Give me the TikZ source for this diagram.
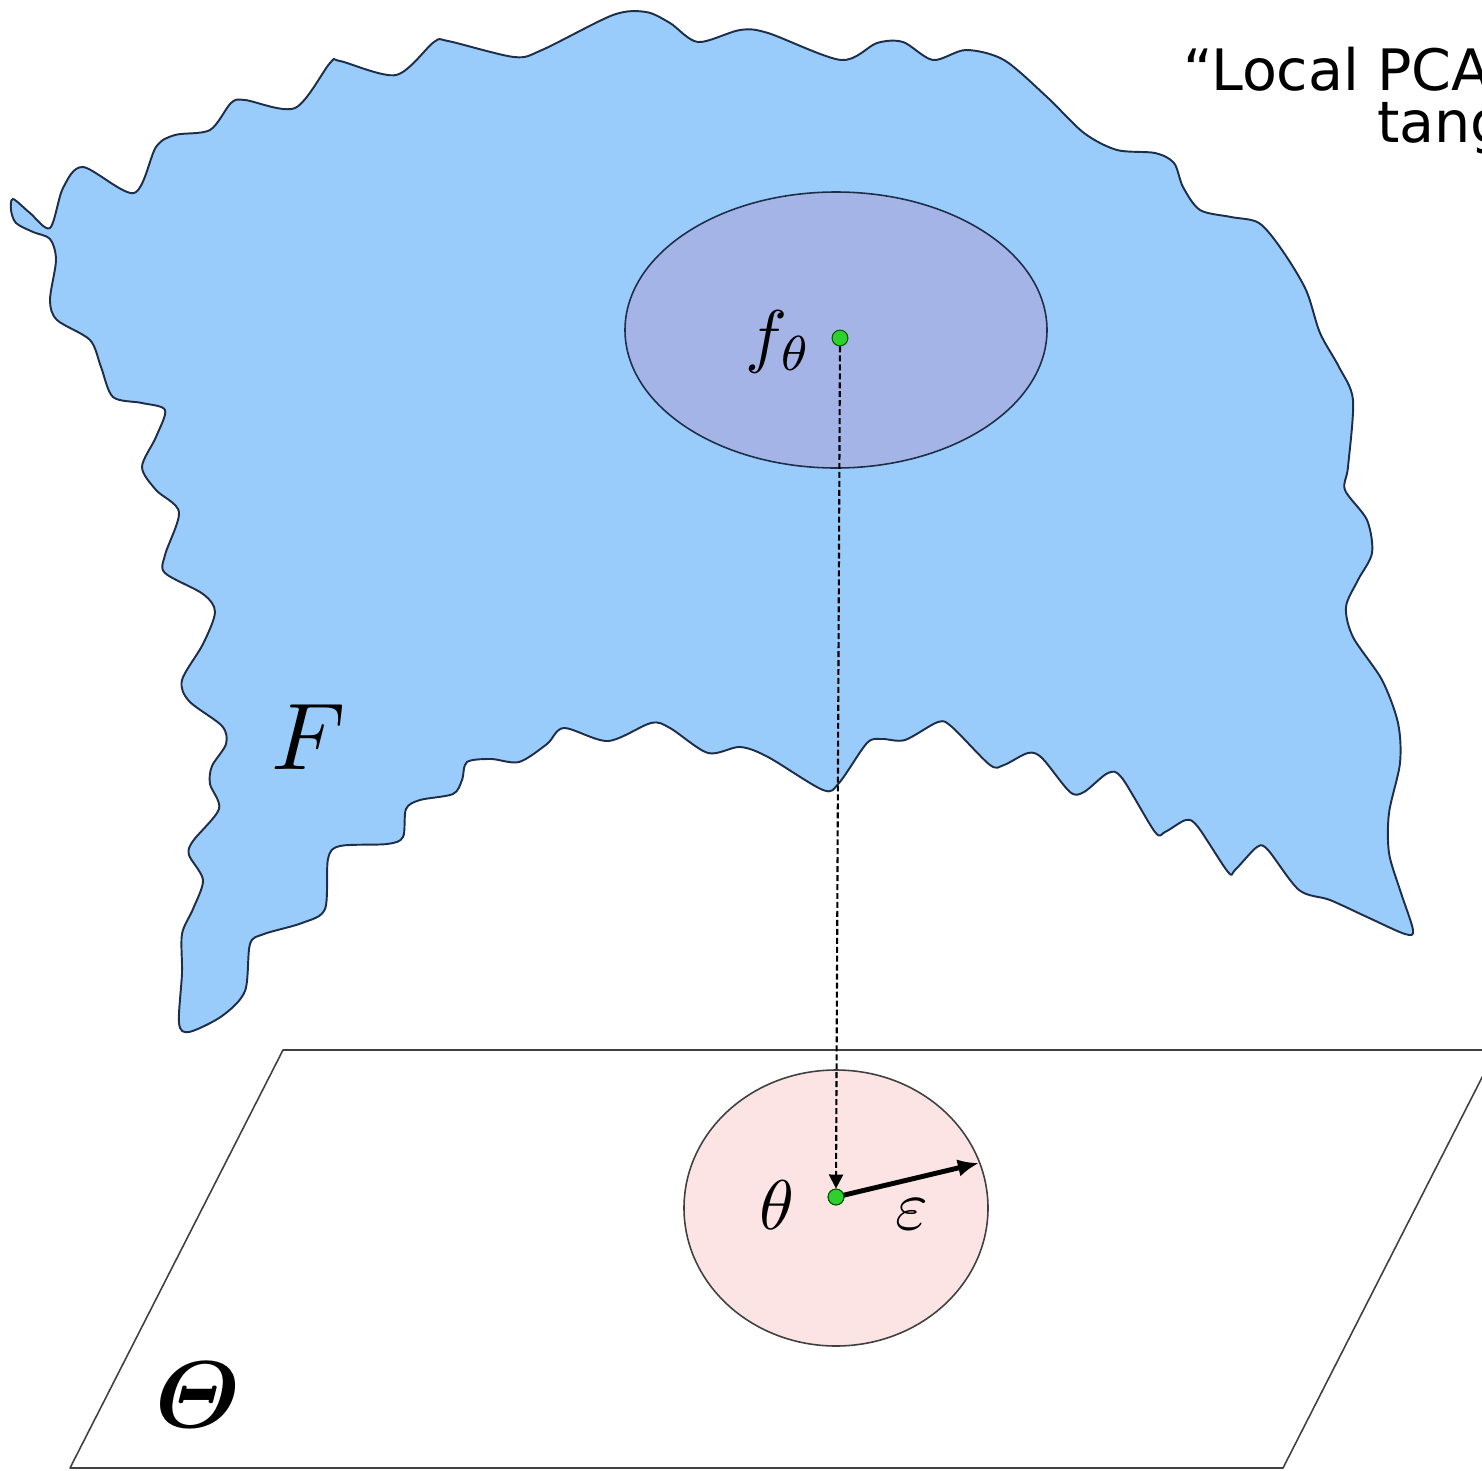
\documentclass[tikz,border=0pt]{standalone}
\usepackage{fontspec}
\usepackage{amsmath}
\setsansfont{DejaVu Sans}
\usetikzlibrary{arrows.meta}

\definecolor{sheetblue}{HTML}{99CCFA}
\definecolor{hoodblue}{HTML}{A4B4E6}
\definecolor{ballpink}{HTML}{FCE4E5}
\definecolor{edgenavy}{HTML}{1E2D48}
\definecolor{dotgreen}{HTML}{2ED02E}

\begin{document}
\begin{tikzpicture}[x=0.02cm, y=-0.02cm, line join=round,
    sheet/.style={fill=sheetblue, draw=edgenavy, line width=1.1pt},
    hood/.style={fill=hoodblue, draw=edgenavy, line width=0.9pt},
    ball/.style={fill=ballpink, draw=black!75, line width=0.9pt},
    dot/.style={circle, fill=dotgreen, draw=green!35!black, line width=0.6pt, inner sep=0pt, minimum size=9pt},
    lbl/.style={inner sep=0pt, scale=4},
    biglbl/.style={inner sep=0pt, scale=5.4},
    quote/.style={anchor=base west, inner sep=0pt, font=\sffamily\fontsize{32.5}{34}\selectfont}]
  \useasboundingbox (0,0) rectangle (1482,1471); % identical box
  \clip (0,0) rectangle (1482,1471);

  % --- the sheet F ---
  \filldraw[sheet] plot[smooth cycle, tension=0.5] coordinates {
    (13,199) (30,213) (50,228) (63,188) (83,167) (134,193) (156,147) (175,135)
    (210,130) (231,103) (245,100) (295,108) (330,63) (340,61) (396,75) (434,42)
    (448,41) (514,57) (542,50) (613,15) (646,12) (670,23) (698,42) (740,30)
    (768,33) (841,60) (877,43) (903,42) (933,60) (966,50) (1004,60) (1047,97)
    (1084,133) (1117,150) (1155,153) (1174,163) (1183,187) (1200,210) (1231,217)
    (1259,223) (1282,250) (1306,290) (1320,333) (1339,367) (1353,400) (1348,467)
    (1345,490) (1367,520) (1372,553) (1358,580) (1346,607) (1353,637) (1382,680)
    (1398,723) (1400,763) (1389,813) (1389,853) (1400,890) (1413,930) (1405,934)
    (1367,917) (1330,900) (1299,890) (1268,850) (1257,847) (1235,870) (1228,872)
    (1198,827) (1186,820) (1165,832) (1155,832) (1122,778) (1108,773) (1084,792)
    (1070,792) (1042,758) (1028,753) (1004,765) (990,765) (952,727) (938,722)
    (905,740) (882,739) (867,743) (839,783) (823,790) (768,757) (740,747)
    (708,753) (670,728) (651,723) (608,741) (564,728) (547,744) (519,762)
    (491,759) (467,762) (462,780) (453,794) (420,800) (406,809) (403,837)
    (387,844) (340,846) (328,859) (325,909) (302,923) (264,934) (250,944)
    (245,991) (222,1016) (189,1032) (179,1023) (182,973) (182,934) (193,909)
    (203,880) (189,855) (193,841) (219,809) (210,784) (212,766) (226,744)
    (222,726) (189,701) (182,680) (203,644) (215,612) (203,594) (165,573)
    (165,555) (179,512) (156,490) (142,467) (156,437) (165,410) (142,403)
    (113,397) (101,367) (90,340) (57,320) (50,300) (56,260) (50,239) (33,232)
    (16,223) (11,210)};
  \filldraw[hood] (836,330) ellipse [x radius=211, y radius=138];

  % --- the plane Theta ---
  \draw[black!75, line width=0.9pt] (283,1050) -- (1496,1050) -- (1283,1468) -- (70,1468) -- cycle;
  \filldraw[ball] (836,1208) ellipse [x radius=152, y radius=138];

  % --- points and arrows ---
  \node[dot] (ftheta) at (840,338) {};
  \node[dot] (theta) at (836,1197) {};
  \coordinate (rim) at (979,1163);
  \draw[line width=1.2pt, dash pattern=on 3.4pt off 1.7pt, -{Triangle[length=8pt,width=8pt]}]
    (ftheta) -- (theta.north);
  \draw[line width=2.8pt, -{Latex[length=12pt,width=10pt]}] (theta.center) -- (rim);
  \node[dot] at (theta) {};

  % --- labels ---
  \node[biglbl] (Flbl) at (309,737) {$F$};
  \node[biglbl] (Thlbl) at (198,1395) {$\boldsymbol{\varTheta}$};
  \node[lbl] (flbl) at (779,342) {$f_\theta$};
  \node[lbl] (tlbl) at (777,1205) {$\theta$};
  \node[lbl] (elbl) at (912,1214) {$\varepsilon$};

  \node[quote] (line1) at (1183,90) {“Local PCA};
  \node[quote] (line2) at (1377,142) {tang};
\end{tikzpicture}
\end{document}
